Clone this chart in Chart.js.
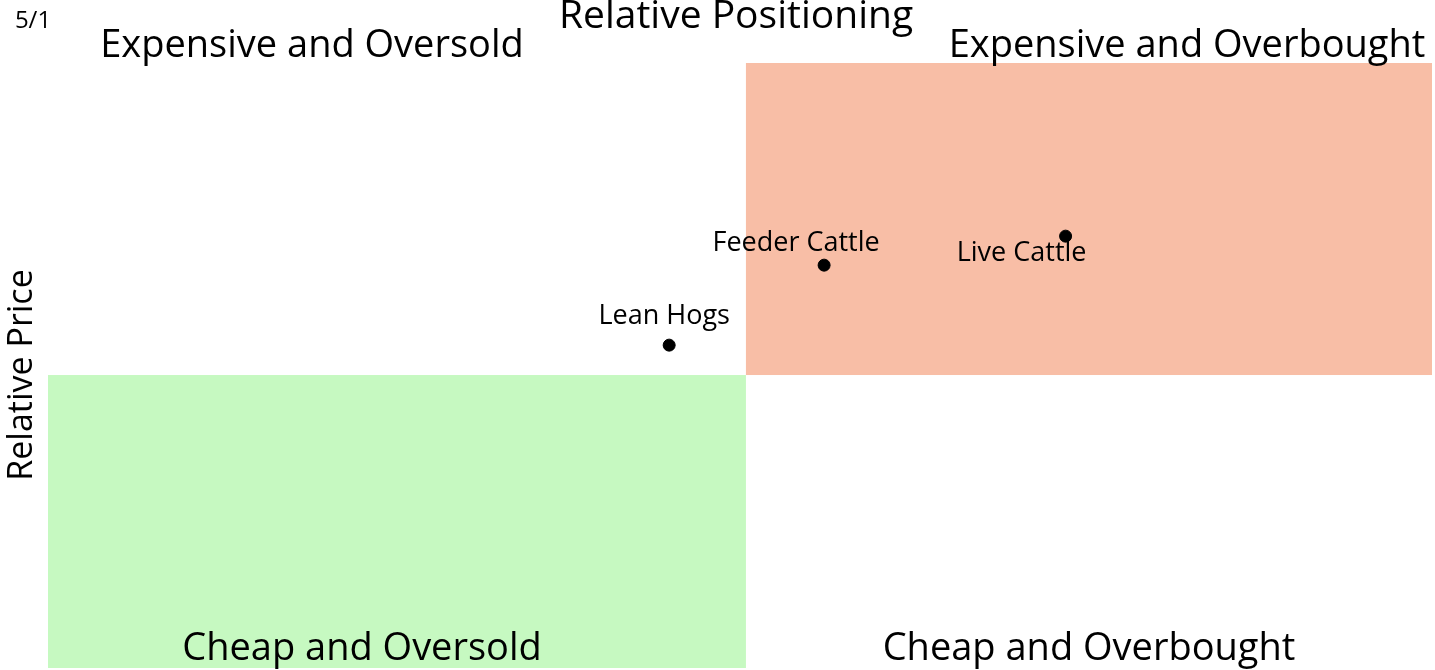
<!DOCTYPE html>
<html>
<head>
<meta charset="utf-8">
<script src="https://cdn.jsdelivr.net/npm/chart.js@4.4.1/dist/chart.umd.min.js"></script>
<style>
html,body{margin:0;padding:0;background:#fff;}
#wrap{width:1435px;height:670px;}
</style>
</head>
<body>
<div id="wrap"><canvas id="c" width="1435" height="670"></canvas></div>
<script>
// ---- data ----
const names = ["Lean Hogs", "Feeder Cattle", "Live Cattle"];
const relPositioning = [-11.0, 11.2, 45.8];
const relPrice = [10.2, 37.5, 47.4];
const xRange = [-100, 98.3];
const yRange = [-100, 106.5];
const xSplit = 0;
const ySplit = 0;
const quadrantLabels = ["Expensive and Oversold", "Expensive and Overbought", "Cheap and Oversold", "Cheap and Overbought"];
const titleText = "Relative Positioning";
const yTitle = "Relative Price";
const dateText = "5/1";

// label offsets in px (style, not data)
const labelOffsets = [[-5,-29],[-28,-22],[-44,17]];

const quadPlugin = {
  id: 'quad',
  beforeDatasetsDraw(chart) {
    const {ctx, scales:{x, y}} = chart;
    ctx.save();
    let x0 = x.getPixelForValue(xSplit), x1 = x.getPixelForValue(xRange[1]);
    let y0 = y.getPixelForValue(yRange[1]), y1 = y.getPixelForValue(ySplit);
    ctx.fillStyle = '#F8BEA6';
    ctx.fillRect(x0, y0, x1 - x0, y1 - y0);
    x0 = x.getPixelForValue(xRange[0]); x1 = x.getPixelForValue(xSplit);
    y0 = y.getPixelForValue(ySplit); y1 = y.getPixelForValue(yRange[0]);
    ctx.fillStyle = '#C6F9C1';
    ctx.fillRect(x0, y0, x1 - x0, y1 - y0);
    ctx.restore();
  },
  afterDatasetsDraw(chart) {
    const {ctx} = chart;
    ctx.save();
    ctx.fillStyle = '#000';
    ctx.textAlign = 'center';
    ctx.textBaseline = 'middle';
    ctx.font = '27px "Open Sans"';
    const meta = chart.getDatasetMeta(0);
    meta.data.forEach((pt, i) => {
      ctx.fillText(names[i], pt.x + labelOffsets[i][0], pt.y + labelOffsets[i][1]);
    });
    ctx.font = '38px "Open Sans"';
    ctx.fillText(quadrantLabels[0], 312, 46);
    ctx.fillText(quadrantLabels[1], 1187, 46);
    ctx.fillText(quadrantLabels[2], 362, 649);
    ctx.fillText(quadrantLabels[3], 1089, 649);
    ctx.font = '39px "Open Sans"';
    ctx.fillText(titleText, 736, 17);
    ctx.font = '24px "Open Sans"';
    ctx.fillText(dateText, 33, 21);
    ctx.font = '34px "Open Sans"';
    ctx.translate(22, 375);
    ctx.rotate(-Math.PI/2);
    ctx.fillText(yTitle, 0, 0);
    ctx.restore();
  }
};

new Chart(document.getElementById('c'), {
  type: 'scatter',
  data: {
    datasets: [{
      data: names.map((n, i) => ({x: relPositioning[i], y: relPrice[i]})),
      backgroundColor: '#000',
      borderColor: '#000',
      pointRadius: 6,
      pointHoverRadius: 6
    }]
  },
  options: {
    responsive: false,
    animation: false,
    events: [],
    layout: {autoPadding: false, padding: {left: 48, right: 3, top: 63, bottom: 2}},
    plugins: {legend: {display: false}, tooltip: {enabled: false}, title: {display: false}},
    scales: {
      x: {type: 'linear', display: false, min: xRange[0], max: xRange[1]},
      y: {type: 'linear', display: false, min: yRange[0], max: yRange[1]}
    }
  },
  plugins: [quadPlugin]
});
</script>
</body>
</html>
